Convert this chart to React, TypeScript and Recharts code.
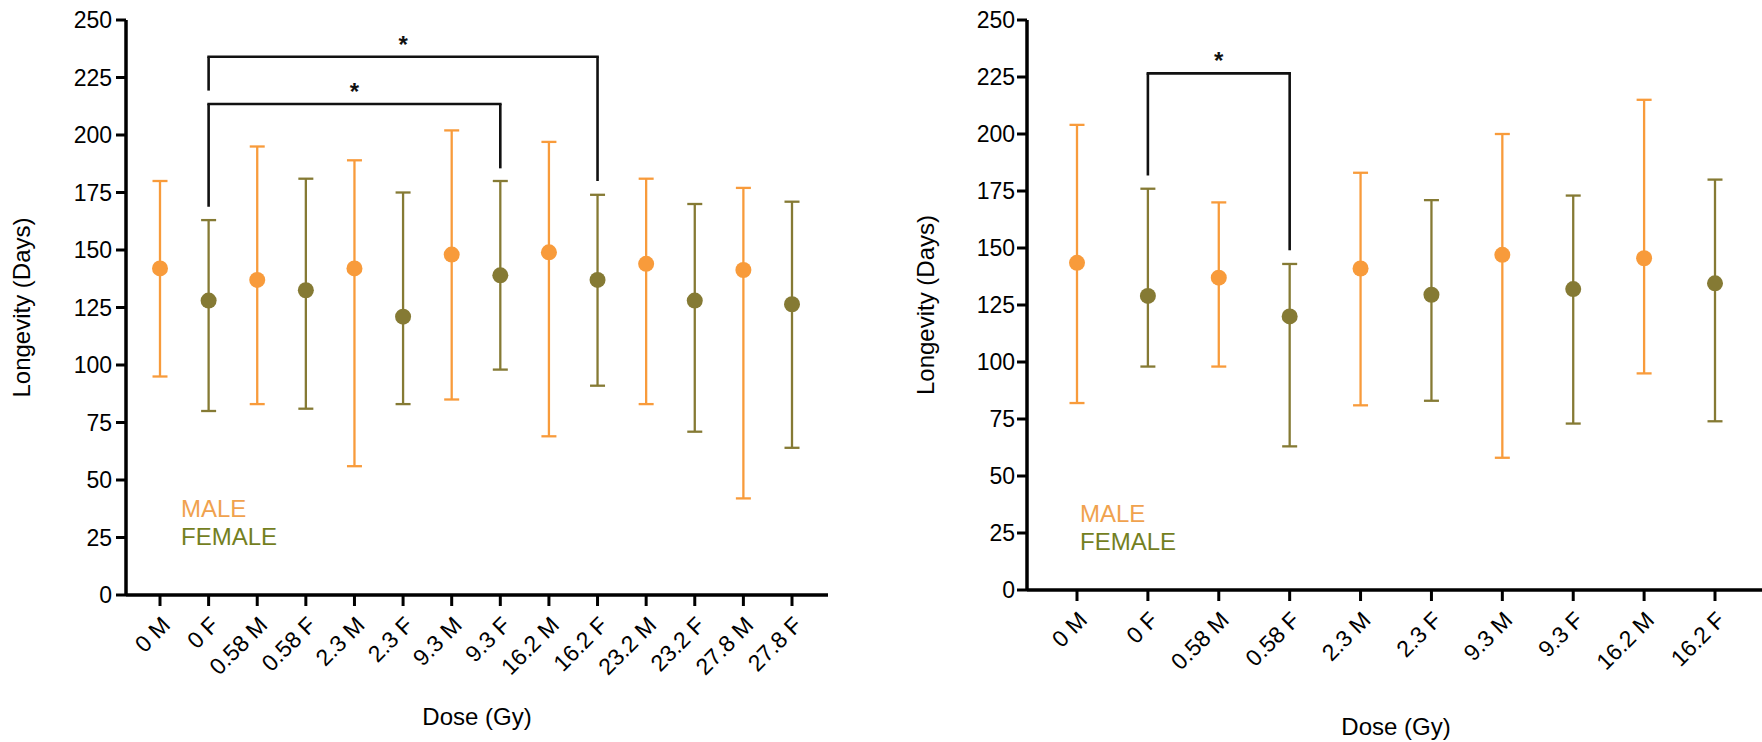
import React from 'react';
import { ComposedChart, Line, ErrorBar, XAxis, YAxis, ReferenceLine } from 'recharts';

const leftCategories = ['0 M', '0 F', '0.58 M', '0.58 F', '2.3 M', '2.3 F', '9.3 M', '9.3 F', '16.2 M', '16.2 F', '23.2 M', '23.2 F', '27.8 M', '27.8 F'];
const leftMean = [142, 128, 137, 132.5, 142, 121, 148, 139, 149, 137, 144, 128, 141.3, 126.4];
const leftLow = [95, 80, 83, 81, 56, 83, 85, 98, 69, 91, 83, 71, 42, 64];
const leftHigh = [180, 163, 195, 181, 189, 175, 202, 180, 197, 174, 181, 170, 177, 171];

const rightCategories = ['0 M', '0 F', '0.58 M', '0.58 F', '2.3 M', '2.3 F', '9.3 M', '9.3 F', '16.2 M', '16.2 F'];
const rightMean = [143.5, 129, 137, 120, 141, 129.5, 147, 132, 145.5, 134.5];
const rightLow = [82, 98, 98, 63, 81, 83, 58, 73, 95, 74];
const rightHigh = [204, 176, 170, 143, 183, 171, 200, 173, 215, 180];

const yTicks = [0, 25, 50, 75, 100, 125, 150, 175, 200, 225, 250];

const leftBrackets = [
  { from: '0 F', to: '16.2 F', y: 234, fromEnd: 219.3, toEnd: 180 },
  { from: '0 F', to: '9.3 F', y: 213.5, fromEnd: 168.8, toEnd: 185.5 },
];
const rightBrackets = [
  { from: '0 F', to: '0.58 F', y: 226.6, fromEnd: 181.8, toEnd: 149 },
];

const MALE = '#F89B3B';
const FEMALE = '#857A34';
const MALE_TEXT = '#F0A24E';
const FEMALE_TEXT = '#74801F';
const FONT = '"Liberation Sans", Arial, Helvetica, sans-serif';

function buildRows(cats: string[], mean: number[], low: number[], high: number[]) {
  return cats.map((c, i) => {
    const isMale = c.endsWith('M');
    const err = [mean[i] - low[i], high[i] - mean[i]];
    return {
      name: c,
      male: isMale ? mean[i] : null,
      maleErr: isMale ? err : null,
      female: isMale ? null : mean[i],
      femaleErr: isMale ? null : err,
    };
  });
}

const leftRows = buildRows(leftCategories, leftMean, leftLow, leftHigh);
const rightRows = buildRows(rightCategories, rightMean, rightLow, rightHigh);

type Bracket = { from: string; to: string; y: number; fromEnd: number; toEnd: number };

function renderBrackets(brackets: Bracket[]) {
  const out: React.ReactNode[] = [];
  brackets.forEach((b, i) => {
    out.push(
      <ReferenceLine
        key={`h${i}`}
        segment={[{ x: b.from, y: b.y }, { x: b.to, y: b.y }]}
        stroke="#111"
        strokeWidth={2.6}
        strokeLinecap="square"
        label={{ value: '*', position: 'top', offset: 4, fill: '#111', fontSize: 24, fontWeight: 'bold', fontFamily: FONT }}
      />
    );
    out.push(
      <ReferenceLine
        key={`l${i}`}
        segment={[{ x: b.from, y: b.fromEnd }, { x: b.from, y: b.y }]}
        stroke="#111"
        strokeWidth={2.6}
      />
    );
    out.push(
      <ReferenceLine
        key={`r${i}`}
        segment={[{ x: b.to, y: b.toEnd }, { x: b.to, y: b.y }]}
        stroke="#111"
        strokeWidth={2.6}
      />
    );
  });
  return out;
}

type PanelProps = {
  rows: any[];
  width: number;
  yAxisWidth: number;
  bottom: number;
  padL: number;
  padR: number;
  titleOffset: number;
  tickMarginY: number;
  xTitleOffset: number;
  brackets: Bracket[];
};

function Panel(p: PanelProps) {
  const tickStyle = { fill: '#000', fontSize: 23, fontFamily: FONT };
  return (
    <ComposedChart
      width={p.width}
      height={742}
      data={p.rows}
      margin={{ top: 20, right: 0, bottom: 0, left: 0 }}
    >
      <XAxis
        dataKey="name"
        type="category"
        interval={0}
        height={742 - p.bottom}
        padding={{ left: p.padL, right: p.padR }}
        axisLine={{ stroke: '#000', strokeWidth: 3.5 }}
        tickLine={{ stroke: '#000', strokeWidth: 3 }}
        tickSize={11}
        tickMargin={9}
        angle={-45}
        textAnchor="end"
        tick={tickStyle}
        label={{ value: 'Dose (Gy)', position: 'insideBottom', offset: p.xTitleOffset, fill: '#000', fontSize: 24, fontFamily: FONT }}
      />
      <YAxis
        type="number"
        domain={[0, 250]}
        ticks={yTicks}
        interval={0}
        width={p.yAxisWidth}
        axisLine={{ stroke: '#000', strokeWidth: 3.5 }}
        tickLine={{ stroke: '#000', strokeWidth: 3 }}
        tickSize={10}
        tickMargin={p.tickMarginY}
        tick={tickStyle}
        label={{
          value: 'Longevity (Days)',
          angle: -90,
          position: 'insideLeft',
          offset: p.titleOffset,
          fill: '#000',
          fontSize: 24,
          fontFamily: FONT,
          style: { textAnchor: 'middle' },
        }}
      />
      <Line
        dataKey="male"
        stroke="none"
        isAnimationActive={false}
        dot={{ r: 8, fill: MALE, stroke: 'none' }}
        activeDot={false}
      >
        <ErrorBar dataKey="maleErr" direction="y" width={7.5} stroke={MALE} strokeWidth={2.3} />
      </Line>
      <Line
        dataKey="female"
        stroke="none"
        isAnimationActive={false}
        dot={{ r: 8, fill: FEMALE, stroke: 'none' }}
        activeDot={false}
      >
        <ErrorBar dataKey="femaleErr" direction="y" width={7.5} stroke={FEMALE} strokeWidth={2.3} />
      </Line>
      {renderBrackets(p.brackets)}
    </ComposedChart>
  );
}

function LegendBlock({ left, top }: { left: number; top: number }) {
  return (
    <div style={{ position: 'absolute', left, top, fontFamily: FONT, fontSize: 24, lineHeight: '28px' }}>
      <div style={{ color: MALE_TEXT }}>MALE</div>
      <div style={{ color: FEMALE_TEXT }}>FEMALE</div>
    </div>
  );
}

export default function App() {
  return (
    <div style={{ position: 'fixed', left: 0, top: 0, width: 1762, height: 742, overflow: 'hidden', background: '#fff' }}>
      <div style={{ position: 'absolute', left: 0, top: 0 }}>
        <Panel
          rows={leftRows}
          width={828}
          yAxisWidth={126}
          bottom={595}
          padL={34}
          padR={36}
          titleOffset={21}
          tickMarginY={4}
          xTitleOffset={17}
          brackets={leftBrackets}
        />
      </div>
      <div style={{ position: 'absolute', left: 880, top: 0 }}>
        <Panel
          rows={rightRows}
          width={885}
          yAxisWidth={147}
          bottom={590}
          padL={50}
          padR={50}
          titleOffset={45.5}
          tickMarginY={2}
          xTitleOffset={7}
          brackets={rightBrackets}
        />
      </div>
      <LegendBlock left={181} top={495} />
      <LegendBlock left={1080} top={500} />
    </div>
  );
}
